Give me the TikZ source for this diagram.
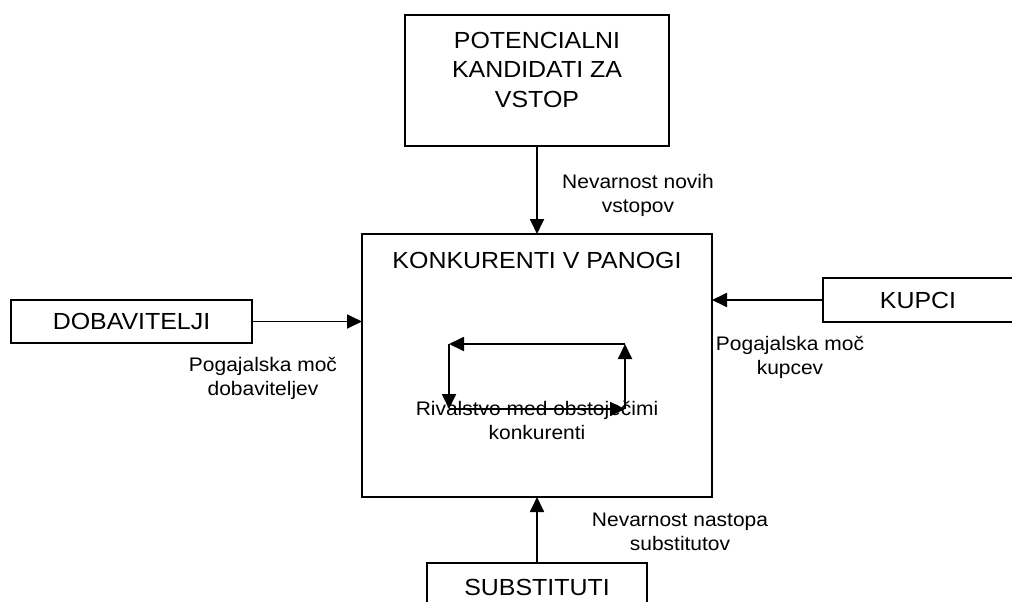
\documentclass[tikz,border=0pt]{standalone}
\usepackage{fontspec}
\setmainfont[FakeStretch=1.07]{Liberation Sans}
\usetikzlibrary{arrows.meta}
\tikzset{
  box/.style={draw, line width=1.8pt, inner sep=0pt, outer sep=0pt},
  bigtext/.style={font=\fontsize{23.3}{29.5}\selectfont, align=center, inner sep=0pt},
  smalltext/.style={font=\fontsize{19.6}{24}\selectfont, align=center, inner sep=0pt},
  arr/.style={line width=1.8pt, -{Triangle[length=15pt,width=14pt]}},
}
\begin{document}
\begin{tikzpicture}[x=1pt,y=-1pt]
\useasboundingbox (0,0) rectangle (1012,602);
\clip (0,0) rectangle (1012,602);
% boxes
\node[box, minimum width=264pt, minimum height=131pt] (top) at (537,80.5) {};
\node[box, minimum width=350pt, minimum height=263pt] (center) at (537,365.5) {};
\node[box, minimum width=241pt, minimum height=43pt, bigtext] (dob) at (131.5,321.5) {DOBAVITELJI};
\node[box, minimum width=190pt, minimum height=44pt, bigtext] (kup) at (918,300) {KUPCI};
\node[box, minimum width=220pt, minimum height=48pt, bigtext] (sub) at (537,587) {SUBSTITUTI};
% texts inside boxes (base anchor = baseline of last line)
\node[bigtext, anchor=base] (toptxt) at (537,107) {POTENCIALNI\\KANDIDATI ZA\\VSTOP};
\node[bigtext, anchor=base] (centxt) at (537,268) {KONKURENTI V PANOGI};
% connectors
\draw[arr] (top.south) -- (center.north);
\draw[arr] (dob.east) -- (dob.east -| center.west);
\draw[arr] (kup.west) -- (kup.west -| center.east);
\draw[arr] (sub.north) -- (center.south);
% labels
\node[smalltext, anchor=base] (lnov) at (638,212) {Nevarnost novih\\vstopov};
\node[smalltext, anchor=base] (ldob) at (263,395) {Pogajalska moč\\dobaviteljev};
\node[smalltext, anchor=base] (lkup) at (790,374) {Pogajalska moč\\kupcev};
\node[smalltext, anchor=base] (lsub) at (680,550) {Nevarnost nastopa\\substitutov};
% rivalry loop
\coordinate (c1) at (449,344);
\coordinate (c2) at (625,344);
\coordinate (c3) at (625,409);
\coordinate (c4) at (449,409);
\node[smalltext, anchor=base] (riv) at (537,439.5) {Rivalstvo med obstoječimi\\konkurenti};
\draw[arr] (c2) -- (c1);
\draw[arr] (c1) -- (c4);
\draw[arr] (c4) -- (c3);
\draw[arr] (c3) -- (c2);
\end{tikzpicture}
\end{document}
